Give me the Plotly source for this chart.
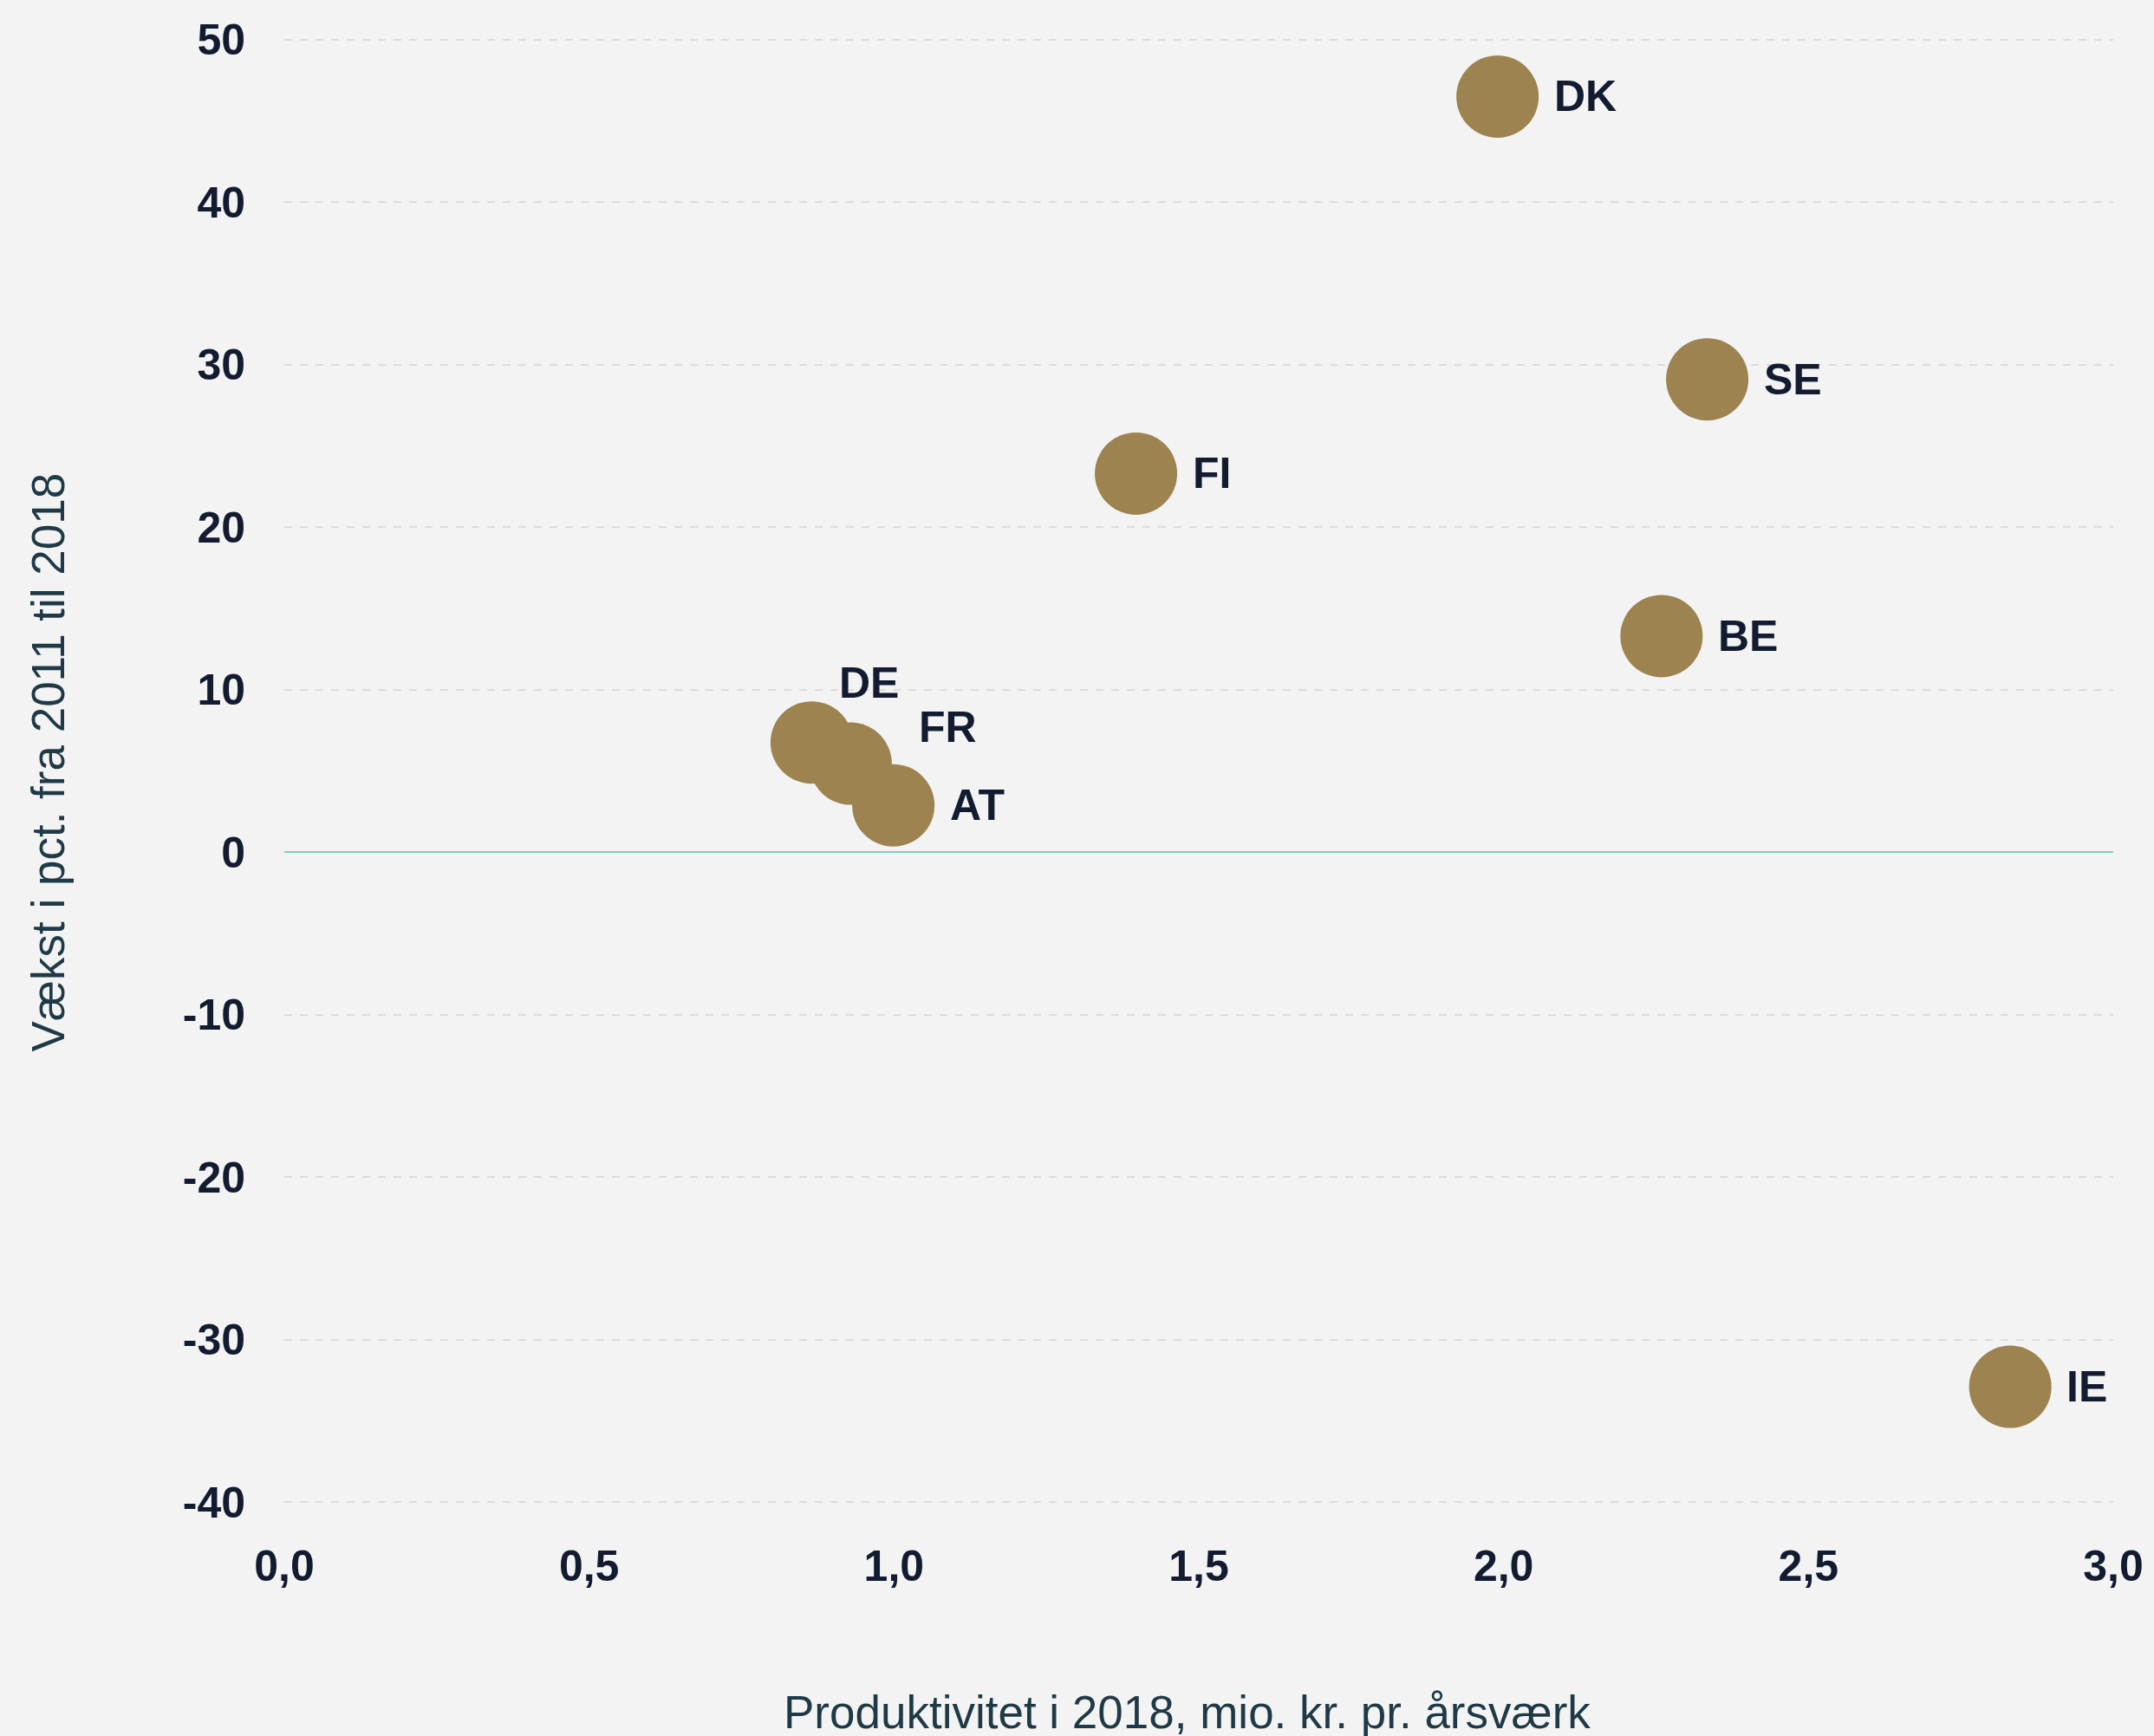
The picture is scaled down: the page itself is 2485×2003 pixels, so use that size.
import plotly.graph_objects as go

countries = ["DK", "SE", "FI", "BE", "DE", "FR", "AT", "IE"]
productivity = [1.99, 2.334, 1.397, 2.259, 0.865, 0.929, 0.999, 2.831]
growth = [46.5, 29.1, 23.3, 13.3, 6.75, 5.45, 2.88, -32.9]

x_tickvals = [0, 0.5, 1.0, 1.5, 2.0, 2.5, 3.0]
x_ticktext = ["0,0", "0,5", "1,0", "1,5", "2,0", "2,5", "3,0"]
y_tickvals = [-40, -30, -20, -10, 0, 10, 20, 30, 40, 50]
y_ticktext = ["-40", "-30", "-20", "-10", "0", "10", "20", "30", "40", "50"]

x_title = "Produktivitet i 2018, mio. kr. pr. årsværk"
y_title = "Vækst i pct. fra 2011 til 2018"

# label placement styles (pixel offsets from marker centre)
label_offsets = {"DE": (30, 69), "FR": (77, 42)}
default_offset = (63, 0)

MARKER = "#9c8350"
TEXT = "#131b31"
TITLE = "#1f3a46"
BG = "#f3f3f3"

fig = go.Figure()
fig.add_trace(go.Scatter(
    x=productivity, y=growth, mode="markers",
    marker=dict(size=95, color=MARKER, line=dict(width=0)),
    hoverinfo="text", text=countries, showlegend=False,
))

for c, xv, yv in zip(countries, productivity, growth):
    dx, dy = label_offsets.get(c, default_offset)
    fig.add_annotation(
        x=xv, y=yv, text=c, showarrow=False, xanchor="left", yanchor="middle",
        xshift=dx, yshift=dy,
        font=dict(family="Liberation Sans, Arial", size=50, color=TEXT, weight="bold"),
    )

fig.add_annotation(
    xref="paper", yref="paper", x=0, y=0.5, text=y_title, textangle=-90,
    showarrow=False, xanchor="center", yanchor="middle", xshift=-273, yshift=10,
    font=dict(family="Liberation Sans, Arial", size=53, color=TITLE),
)
fig.add_annotation(
    xref="paper", yref="paper", x=0.5, y=0, text=x_title,
    showarrow=False, xanchor="center", yanchor="middle", xshift=-14, yshift=-240,
    font=dict(family="Liberation Sans, Arial", size=53, color=TITLE),
)

tickfont = dict(family="Liberation Sans, Arial", size=50, color=TEXT, weight="bold")

fig.update_xaxes(
    range=[0, 3], tickvals=x_tickvals, ticktext=x_ticktext,
    showgrid=False, zeroline=False, showline=False, ticks="",
    tickfont=tickfont, ticklabelstandoff=38,
)
fig.update_yaxes(
    range=[-40.1, 50.1], tickvals=y_tickvals, ticktext=y_ticktext,
    showgrid=True, gridcolor="#dcdcdc", gridwidth=2, griddash="dash",
    zeroline=True, zerolinecolor="#86cdc3", zerolinewidth=2,
    showline=False, ticks="", tickfont=tickfont, ticklabelstandoff=44,
)

fig.update_layout(
    width=2485, height=2003,
    margin=dict(l=328, r=44, t=44, b=268),
    paper_bgcolor=BG, plot_bgcolor=BG,
)

fig.write_html(
    "out.html",
    config={"displayModeBar": False},
    post_script="document.body.style.margin='0';document.body.style.overflow='hidden';",
)
